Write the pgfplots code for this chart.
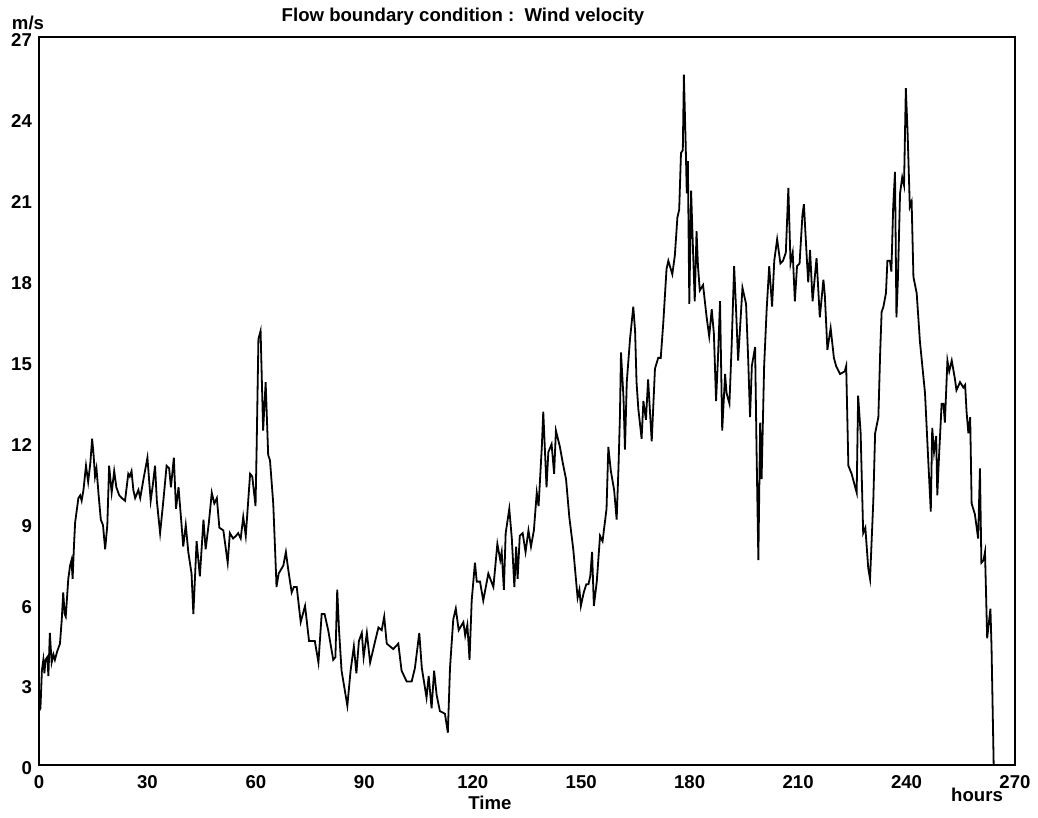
\documentclass[border=0pt]{standalone}
\usepackage{pgfplots}
\pgfplotsset{compat=1.18}
\usepackage{fontspec}
\setmainfont{Liberation Sans}
\begin{document}
\begin{tikzpicture}
\begin{axis}[
  scale only axis, width=488pt, height=364pt,
  xmin=0, xmax=270, ymin=0, ymax=27,
  xtick={0,30,...,270}, ytick={0,3,...,27},
  tick style={draw=none},
  axis line style={line width=0.6pt},
  ticklabel style={font=\fontsize{9.3}{11}\selectfont\bfseries},
  /pgf/number format/assume math mode=true,
  xticklabel style={yshift=-1.7pt},
  yticklabel style={yshift=-1.7pt},
]
\addplot[black, line width=0.9pt] table[row sep=\\] {
x y\\
0.0 2.0\\ 0.4 2.1\\ 0.8 3.5\\ 1.2 3.9\\ 1.5 3.4\\ 1.8 3.9\\ 2.3 4.0\\ 2.6 3.3\\ 3.0 4.9\\ 3.5 3.8\\
4.0 4.1\\ 4.4 3.9\\ 5.0 4.2\\ 5.8 4.5\\ 6.3 5.4\\ 6.7 6.4\\ 7.1 5.6\\ 7.4 5.5\\ 8.1 6.9\\ 8.6 7.4\\
9.0 7.6\\ 9.3 6.9\\ 9.7 8.2\\ 10.0 9.0\\ 10.5 9.5\\ 10.9 9.9\\ 11.4 10.0\\ 11.8 9.8\\ 12.3 10.2\\ 13.0 11.1\\
13.6 10.5\\ 14.2 11.2\\ 14.7 12.1\\ 15.1 11.5\\ 15.5 10.7\\ 15.9 11.0\\ 16.5 10.0\\ 17.1 9.1\\ 17.7 8.9\\ 18.3 8.0\\
18.9 8.9\\ 19.4 11.1\\ 20.1 10.1\\ 20.8 10.9\\ 21.4 10.3\\ 22.2 10.0\\ 22.9 9.9\\ 23.8 9.8\\ 24.7 10.8\\ 25.1 10.7\\
25.6 10.9\\ 26.1 10.2\\ 26.6 9.9\\ 27.5 10.2\\ 28.0 9.9\\ 28.9 10.6\\ 30.0 11.4\\ 30.5 10.5\\ 30.9 9.8\\ 31.5 10.4\\
32.1 11.1\\ 32.6 9.8\\ 33.5 8.6\\ 34.4 9.8\\ 35.3 11.1\\ 36.0 11.0\\ 36.5 10.3\\ 37.3 11.4\\ 37.9 9.5\\ 38.6 10.3\\
39.5 8.8\\ 39.9 8.1\\ 40.6 8.9\\ 41.3 7.9\\ 42.2 7.1\\ 42.7 5.6\\ 43.6 8.3\\ 44.5 7.0\\ 45.5 9.1\\ 46.1 8.0\\
47.0 9.0\\ 47.8 10.1\\ 48.5 9.7\\ 49.2 9.9\\ 49.9 8.8\\ 51.0 8.7\\ 52.2 7.5\\ 52.8 8.6\\ 53.7 8.4\\ 54.5 8.5\\
55.1 8.6\\ 55.8 8.4\\ 56.5 9.2\\ 57.2 8.5\\ 58.4 10.8\\ 59.0 10.7\\ 59.9 9.6\\ 60.2 11.7\\ 60.7 15.8\\ 61.3 16.1\\
62.0 12.4\\ 62.7 14.2\\ 63.4 11.5\\ 63.9 11.3\\ 64.8 9.7\\ 65.6 7.0\\ 65.7 6.6\\ 66.3 7.1\\ 67.6 7.4\\ 68.3 7.9\\
69.0 7.2\\ 69.9 6.4\\ 70.5 6.6\\ 71.3 6.6\\ 72.4 5.3\\ 73.6 5.9\\ 74.7 4.6\\ 76.3 4.6\\ 77.3 3.8\\ 78.2 5.6\\
79.0 5.6\\ 80.0 5.0\\ 81.4 3.9\\ 82.0 4.0\\ 82.5 6.5\\ 83.0 5.0\\ 83.7 3.5\\ 85.3 2.2\\ 86.2 3.5\\ 87.1 4.4\\
87.8 3.4\\ 88.5 4.6\\ 89.3 4.9\\ 89.8 4.0\\ 90.7 4.9\\ 91.6 3.8\\ 93.0 4.6\\ 93.9 5.1\\ 94.8 5.0\\ 95.5 5.5\\
96.2 4.5\\ 98.0 4.3\\ 99.4 4.5\\ 100.3 3.5\\ 101.7 3.1\\ 103.1 3.1\\ 104.0 3.6\\ 105.2 4.9\\ 105.9 3.6\\ 107.2 2.5\\
107.8 3.3\\ 108.6 2.1\\ 109.3 3.5\\ 110.0 2.6\\ 110.9 2.0\\ 112.3 1.9\\ 113.1 1.2\\ 113.7 3.6\\ 114.6 5.4\\ 115.3 5.8\\
116.1 5.0\\ 117.4 5.3\\ 117.9 4.8\\ 118.5 5.2\\ 119.1 3.9\\ 119.7 6.1\\ 120.6 7.5\\ 121.1 6.8\\ 122.0 6.8\\ 122.9 6.1\\
124.3 7.1\\ 125.7 6.6\\ 126.8 8.2\\ 127.6 7.6\\ 128.0 7.9\\ 128.6 6.5\\ 129.1 8.6\\ 130.1 9.5\\ 130.8 8.4\\ 131.5 6.6\\
132.0 8.1\\ 132.4 6.9\\ 133.0 8.5\\ 133.8 8.6\\ 134.6 7.9\\ 135.4 8.7\\ 136.1 8.1\\ 136.9 8.7\\ 137.7 10.1\\ 138.2 9.6\\
139.1 11.8\\ 139.5 13.1\\ 140.4 10.3\\ 140.9 11.6\\ 141.8 11.9\\ 142.5 10.8\\ 143.0 12.4\\ 144.1 11.8\\ 144.9 11.2\\ 145.8 10.6\\
146.7 9.2\\ 147.8 8.0\\ 149.0 6.2\\ 149.5 6.5\\ 149.9 5.9\\ 150.7 6.4\\ 151.4 6.7\\ 152.0 6.7\\ 152.5 7.0\\ 153.0 7.9\\
153.5 5.9\\ 154.3 6.8\\ 155.2 8.5\\ 155.9 8.3\\ 157.0 9.5\\ 157.5 11.8\\ 158.2 10.9\\ 159.1 10.2\\ 159.8 9.1\\ 160.3 11.0\\
160.7 12.9\\ 161.0 15.3\\ 161.7 13.6\\ 162.1 11.7\\ 162.6 14.2\\ 163.5 15.8\\ 164.4 17.0\\ 164.9 16.1\\ 165.3 14.2\\ 165.8 13.2\\
166.3 12.6\\ 166.7 12.1\\ 167.2 13.5\\ 167.9 12.8\\ 168.5 14.3\\ 169.5 12.0\\ 170.4 14.7\\ 171.3 15.1\\ 172.0 15.1\\ 172.7 16.4\\
173.6 18.4\\ 174.1 18.7\\ 175.2 18.2\\ 175.9 18.9\\ 176.6 20.3\\ 177.1 20.6\\ 177.6 22.7\\ 178.1 22.8\\ 178.4 25.6\\ 178.9 23.0\\
179.2 21.2\\ 179.5 22.4\\ 179.9 17.1\\ 180.4 21.3\\ 180.8 19.6\\ 181.4 17.2\\ 181.9 19.8\\ 182.3 18.5\\ 182.8 17.6\\ 183.7 17.8\\
184.7 16.6\\ 185.4 15.9\\ 186.1 16.9\\ 186.7 16.0\\ 187.3 13.5\\ 187.8 15.0\\ 188.4 17.2\\ 189.0 12.4\\ 189.8 14.5\\ 190.2 13.8\\
191.0 13.4\\ 191.6 15.5\\ 192.3 18.5\\ 192.8 17.0\\ 193.4 15.0\\ 194.6 17.7\\ 195.6 17.1\\ 196.2 15.0\\ 196.7 12.9\\ 197.2 14.8\\
198.1 15.5\\ 198.5 11.7\\ 199.0 7.6\\ 199.5 12.7\\ 199.9 10.6\\ 200.6 14.8\\ 201.3 16.9\\ 202.0 18.5\\ 202.8 17.0\\ 203.4 18.7\\
204.2 19.5\\ 205.1 18.6\\ 205.8 18.7\\ 206.6 19.0\\ 207.3 21.4\\ 207.9 18.6\\ 208.5 19.0\\ 209.1 17.2\\ 209.7 18.5\\ 210.4 18.6\\
211.2 20.4\\ 211.6 20.8\\ 212.4 18.8\\ 212.8 17.9\\ 213.3 19.1\\ 214.0 17.2\\ 215.1 18.8\\ 216.0 16.6\\ 217.0 18.0\\ 217.4 17.4\\
218.1 15.4\\ 219.0 16.2\\ 219.9 15.1\\ 220.5 14.8\\ 221.6 14.5\\ 222.9 14.6\\ 223.3 14.8\\ 223.9 11.1\\ 224.8 10.8\\ 226.2 10.1\\
226.6 13.7\\ 227.3 12.3\\ 228.0 8.6\\ 228.6 8.8\\ 229.4 7.3\\ 229.9 6.9\\ 230.8 9.8\\ 231.3 12.3\\ 232.2 12.9\\ 232.7 15.3\\
233.1 16.8\\ 233.6 17.0\\ 234.3 17.5\\ 234.7 18.7\\ 235.4 18.7\\ 235.8 18.3\\ 236.3 20.7\\ 236.8 22.0\\ 237.2 16.6\\ 237.6 18.0\\
238.2 21.2\\ 238.8 21.8\\ 239.3 21.5\\ 239.8 25.1\\ 240.3 23.4\\ 240.9 20.7\\ 241.4 20.9\\ 241.9 18.1\\ 242.8 17.5\\ 243.7 15.7\\
245.1 13.8\\ 246.0 11.3\\ 246.7 9.4\\ 247.1 12.5\\ 247.6 11.6\\ 248.2 12.2\\ 248.5 10.0\\ 249.0 11.5\\ 249.7 13.4\\ 250.2 13.4\\
250.6 12.7\\ 251.3 15.0\\ 251.8 14.6\\ 252.5 15.0\\ 253.4 14.3\\ 253.8 13.9\\ 254.8 14.2\\ 255.7 14.0\\ 256.2 14.1\\ 256.6 13.1\\
257.1 12.3\\ 257.6 12.9\\ 258.0 9.7\\ 258.9 9.3\\ 259.4 8.8\\ 259.8 8.4\\ 260.3 11.0\\ 260.7 7.5\\ 261.3 7.6\\ 261.7 7.9\\
262.3 4.7\\ 263.2 5.8\\ 263.5 4.4\\ 264.1 0.0\\
};
\end{axis}
\node[font=\fontsize{9.3}{11}\selectfont\bfseries] at (-5.5pt,371pt) {m/s};
\node[font=\fontsize{9.3}{11}\selectfont\bfseries] at (212pt,374pt) {Flow boundary condition :\ \ Wind velocity};
\node[font=\fontsize{9.3}{11}\selectfont\bfseries] at (225.5pt,-19pt) {Time};
\node[font=\fontsize{9.3}{11}\selectfont\bfseries] at (469pt,-15pt) {hours};
\pgfresetboundingbox
\path[use as bounding box] (-19.5pt,-26.5pt) rectangle (499.5pt,382.5pt);
\end{tikzpicture}
\end{document}
